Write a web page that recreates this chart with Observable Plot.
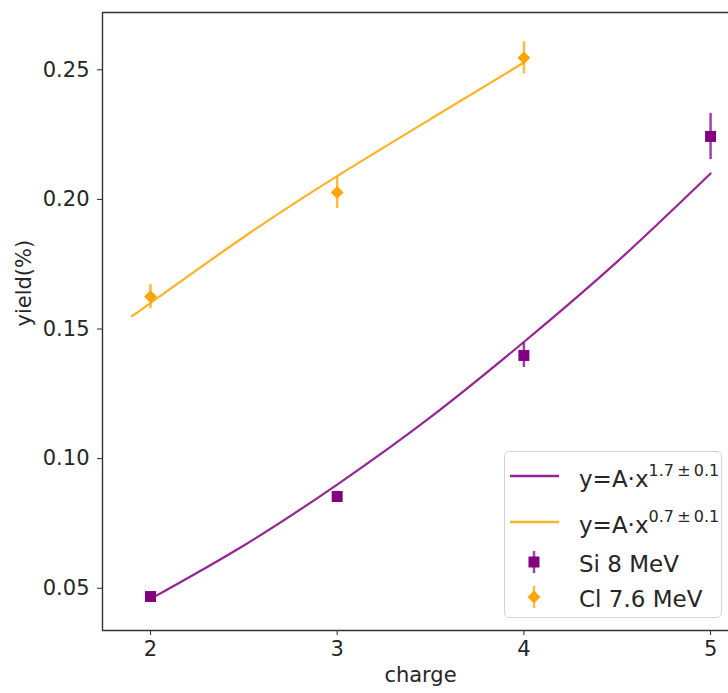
<!DOCTYPE html>
<html>
<head>
<meta charset="utf-8">
<script src="https://cdn.jsdelivr.net/npm/d3@7"></script>
<script src="https://cdn.jsdelivr.net/npm/@observablehq/plot@0.6"></script>
<style>
  body { margin: 0; background: #fff; }
  #chart { position: relative; width: 728px; height: 693px; font-family: "DejaVu Sans", sans-serif; }
  #legend { position: absolute; left: 504px; top: 451px; width: 218px; height: 167px;
            border: 1px solid #d4d4d4; border-radius: 5px; background: rgba(255,255,255,0.85);
            box-sizing: border-box; }
  #legend svg { position: absolute; left: -1px; top: -1px; overflow: visible; }
</style>
</head>
<body>
<div id="chart"></div>
<script>
// Measured yields per charge state, with uncertainties
const siCharge = [2, 3, 4, 5];
const siYield  = [0.0468, 0.0854, 0.1398, 0.2243];
const siErr    = [0.0015, 0.0020, 0.0047, 0.0089];

const clCharge = [2, 3, 4];
const clYield  = [0.1625, 0.2027, 0.2546];
const clErr    = [0.0047, 0.0062, 0.0062];

// Power-law fits y = A·x^p, sampled along each fitted curve
const siFitX = [2, 2.5, 3, 3.5, 4, 4.5, 5];
const siFitY = [0.0459, 0.0665, 0.0900, 0.1160, 0.1450, 0.1760, 0.2100];
const clFitX = [1.9, 2, 2.5, 3, 3.5, 4];
const clFitY = [0.155, 0.160, 0.1855, 0.209, 0.231, 0.2528];

// Axes
const xTicks = [2, 3, 4, 5];
const yTicks = [0.05, 0.10, 0.15, 0.20, 0.25];
const xDomain = [1.743, 5.096];
const yDomain = [0.0337, 0.2721];

const siLabel = "Si 8 MeV";
const clLabel = "Cl 7.6 MeV";
const siFitExp = "1.7\u2009±\u20090.1";
const clFitExp = "0.7\u2009±\u20090.1";

const PURPLE = "purple";
const ORANGE = "orange";
const INK = "#262626";

const si = siCharge.map((c, i) => ({charge: c, y: siYield[i], e: siErr[i]}));
const cl = clCharge.map((c, i) => ({charge: c, y: clYield[i], e: clErr[i]}));
const siFit = siFitX.map((x, i) => ({x, y: siFitY[i]}));
const clFit = clFitX.map((x, i) => ({x, y: clFitY[i]}));

const plot = Plot.plot({
  width: 728,
  height: 693,
  marginLeft: 102,
  marginRight: 0,
  marginTop: 12,
  marginBottom: 63,
  style: {fontFamily: "'DejaVu Sans', sans-serif", fontSize: "21px", color: INK, background: "white"},
  x: {domain: xDomain, ticks: xTicks, tickFormat: d3.format("d"), tickSize: 5, tickPadding: 6, label: null},
  y: {domain: yDomain, ticks: yTicks, tickFormat: d3.format(".2f"), tickSize: 5, tickPadding: 8, label: null},
  marks: [
    // spines (right one lies beyond the visible area)
    Plot.ruleX([xDomain[0]], {stroke: "#333", strokeWidth: 1.4}),
    Plot.ruleY([yDomain[0], yDomain[1]], {stroke: "#333", strokeWidth: 1.4}),
    // fitted curves
    Plot.line(siFit, {x: "x", y: "y", stroke: PURPLE, strokeWidth: 2.2, strokeOpacity: 0.85, curve: "natural"}),
    Plot.line(clFit, {x: "x", y: "y", stroke: ORANGE, strokeWidth: 2.2, strokeOpacity: 0.85, curve: "natural"}),
    // error bars
    Plot.ruleX(si, {x: "charge", y1: d => d.y - d.e, y2: d => d.y + d.e, stroke: PURPLE, strokeWidth: 2.5, strokeOpacity: 0.75}),
    Plot.ruleX(cl, {x: "charge", y1: d => d.y - d.e, y2: d => d.y + d.e, stroke: ORANGE, strokeWidth: 2.5, strokeOpacity: 0.75}),
    // data points
    Plot.dot(si, {x: "charge", y: "y", symbol: "square", r: 6.2, fill: PURPLE, stroke: "none"}),
    Plot.dot(cl, {x: "charge", y: "y", symbol: "diamond2", r: 5.8, fill: ORANGE, stroke: "none"}),
    // axis titles
    Plot.text(["yield(%)"], {frameAnchor: "left", dx: -78, dy: 5, rotate: -90, fontSize: 21, fill: INK}),
    Plot.text(["charge"], {frameAnchor: "bottom", dx: 5, dy: 51, fontSize: 21, fill: INK})
  ]
});

const chart = document.getElementById("chart");
chart.appendChild(plot);

// Legend box inside the plot area
const legend = document.createElement("div");
legend.id = "legend";
chart.appendChild(legend);

const lsvg = d3.select(legend).append("svg").attr("width", 218).attr("height", 167)
  .style("font-family", "'DejaVu Sans', sans-serif").style("fill", INK);

function fitEntry(y, color, exp) {
  lsvg.append("line").attr("x1", 6).attr("x2", 55).attr("y1", y).attr("y2", y)
    .attr("stroke", color).attr("stroke-width", 2.5).attr("stroke-opacity", 0.85);
  const t = lsvg.append("text").attr("x", 75).attr("y", y + 11).attr("font-size", 23);
  t.append("tspan").text("y=A·x");
  t.append("tspan").attr("dy", -11).attr("font-size", 16).text(exp);
}
function pointEntry(y, color, symbol, r, label) {
  lsvg.append("line").attr("x1", 30).attr("x2", 30).attr("y1", y - 11).attr("y2", y + 11)
    .attr("stroke", color).attr("stroke-width", 2.5).attr("stroke-opacity", 0.75);
  lsvg.append("path").attr("transform", `translate(30,${y})`)
    .attr("d", d3.symbol(symbol, Math.PI * r * r)()).attr("fill", color);
  lsvg.append("text").attr("x", 75).attr("y", y + 10).attr("font-size", 23).text(label);
}
fitEntry(25, PURPLE, siFitExp);
fitEntry(71, ORANGE, clFitExp);
pointEntry(111, PURPLE, d3.symbolSquare, 6.2, siLabel);
pointEntry(146, ORANGE, d3.symbolDiamond2, 5.8, clLabel);
</script>
</body>
</html>
